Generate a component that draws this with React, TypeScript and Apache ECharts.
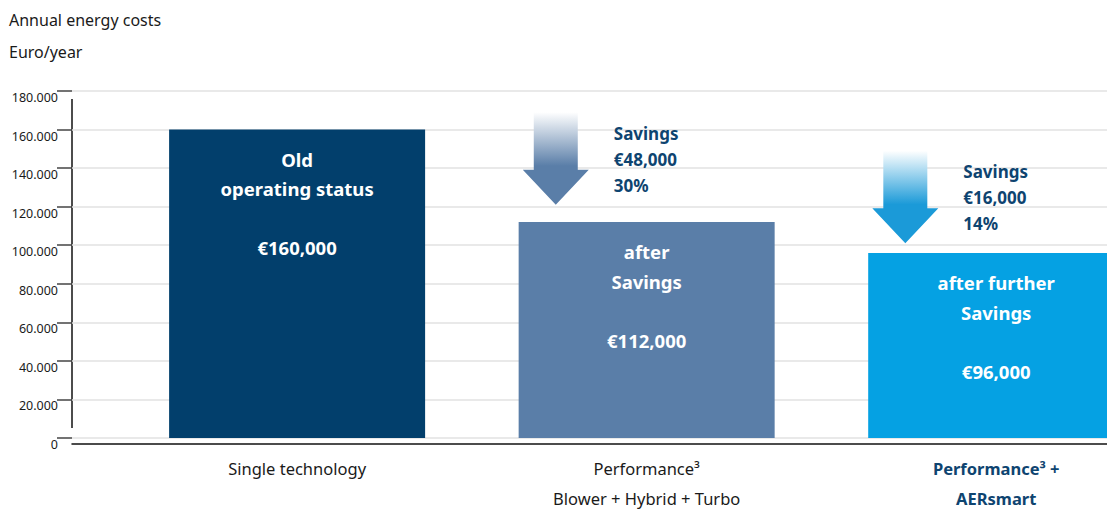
import React, { useEffect, useRef } from "react";
import * as echarts from "echarts";

const titleLines = ["Annual energy costs", "Euro/year"];
const categories = ["Single technology", "Performance³\nBlower + Hybrid + Turbo", "Performance³ +\nAERsmart"];
const positions = [1, 2, 3];
const costs = [160000, 112000, 96000];
const barTitles = ["Old\noperating status", "after\nSavings", "after further\nSavings"];
const barColors = ["#023f6c", "#5a7ea8", "#05a1e3"];
const arrowX = [1.74, 2.74];
const arrowFrom = [169000, 149000];
const arrowTo = [121000, 101000];
const savingsAmount = [48000, 16000];
const savingsPct = [30, 14];
const arrowColors = ["#5a7ea8", "#1b9ad8"];

const FONT = "Noto Sans";

const fmtDot = (v: number) => (v === 0 ? "0" : `${Math.round(v / 1000)}.000`);
const fmtEuro = (v: number) => "€" + v.toLocaleString("en-US");

export default function App() {
  const ref = useRef<HTMLDivElement>(null);
  useEffect(() => {
    if (!ref.current) return;
    const chart = echarts.init(ref.current, undefined, { renderer: "svg" });
    const option: any = {
      animation: false,
      backgroundColor: "#ffffff",
      title: {
        text: titleLines.join("\n"),
        left: 9,
        top: 4,
        padding: 0,
        textStyle: { fontFamily: FONT, fontSize: 16, fontWeight: "normal", lineHeight: 32, color: "#1a1a1a" },
      },
      grid: { left: 72, right: 0, top: 91, bottom: 72 },
      xAxis: {
        type: "value",
        min: 0.356,
        max: 3.317,
        offset: 6,
        splitLine: { show: false },
        axisTick: { show: false },
        axisLine: { show: true, onZero: false, lineStyle: { color: "#111", width: 1.5 } },
        axisLabel: {
          customValues: positions,
          margin: 9,
          formatter: (v: number) => {
            const i = Math.round(v) - 1;
            const t = categories[i] || "";
            const lines = t.split("\n");
            const key = i === 2 ? "b" : "n";
            return lines.map((l) => `{${key}|${l}}`).join("\n");
          },
          rich: {
            n: { fontFamily: FONT, fontSize: 16.5, color: "#1a1a1a", lineHeight: 30.5 },
            b: { fontFamily: FONT, fontSize: 16.5, fontWeight: "bold", color: "#0e4470", lineHeight: 30.5 },
          },
        },
      },
      yAxis: {
        type: "value",
        min: 0,
        max: 180000,
        interval: 20000,
        axisLine: { show: false },
        axisTick: { show: true, length: 15, lineStyle: { color: "#444", width: 1.5 } },
        splitLine: { show: true, lineStyle: { color: "#e2e2e2", width: 1.5 } },
        axisLabel: {
          margin: 14,
          verticalAlign: "top",
          fontFamily: FONT,
          fontSize: 12.5,
          color: "#1a1a1a",
          formatter: (v: number) => fmtDot(v),
        },
      },
      graphic: [
        { type: "line", shape: { x1: 72, y1: 99, x2: 72, y2: 428 }, style: { stroke: "#111", lineWidth: 1.5 } },
      ],
      series: [
        {
          type: "bar",
          barWidth: 256,
          data: costs.map((v, i) => ({
            value: [positions[i], v],
            itemStyle: { color: barColors[i] },
          })),
          label: {
            show: true,
            position: "insideTop",
            distance: 15,
            formatter: (p: any) => {
              const i = p.dataIndex;
              const lines = barTitles[i].split("\n");
              return lines.map((l) => `{t|${l}}`).join("\n") + "\n{t| }\n{t|" + fmtEuro(costs[i]) + "}";
            },
            rich: {
              t: { fontFamily: FONT, fontSize: 18.5, fontWeight: "bold", color: "#ffffff", lineHeight: 29.5, align: "center" },
            },
          },
        },
        {
          type: "custom",
          clip: false,
          z: 5,
          data: arrowX.map((x, i) => [x, arrowFrom[i], arrowTo[i], i]),
          encode: { x: 0, y: [1, 2] },
          renderItem: (params: any, api: any) => {
            const i = api.value(3);
            const top = api.coord([api.value(0), api.value(1)]);
            const tip = api.coord([api.value(0), api.value(2)]);
            const cx = top[0];
            const headH = 35;
            const headStart = tip[1] - headH;
            const sw = 22;
            const hw = 33;
            return {
              type: "group",
              children: [
                {
                  type: "polygon",
                  shape: {
                    points: [
                      [cx - sw, top[1]],
                      [cx + sw, top[1]],
                      [cx + sw, headStart],
                      [cx + hw, headStart],
                      [cx, tip[1]],
                      [cx - hw, headStart],
                      [cx - sw, headStart],
                    ],
                  },
                  style: {
                    fill: new echarts.graphic.LinearGradient(0, 0, 0, 1, [
                      { offset: 0, color: "#ffffff" },
                      { offset: 0.58, color: arrowColors[i] },
                      { offset: 1, color: arrowColors[i] },
                    ]),
                  },
                },
                {
                  type: "text",
                  x: cx + 58,
                  y: top[1] + 8,
                  style: {
                    text: `Savings\n${fmtEuro(savingsAmount[i])}\n${savingsPct[i]}%`,
                    fill: "#0e4470",
                    fontFamily: FONT,
                    fontSize: 17,
                    fontWeight: "bold",
                    lineHeight: 26,
                    align: "left",
                    verticalAlign: "top",
                  },
                },
              ],
            };
          },
        },
      ],
    };
    chart.setOption(option);
    return () => chart.dispose();
  }, []);
  return (
    <div
      ref={ref}
      style={{ position: "absolute", left: 0, top: 0, width: 1107, height: 510 }}
    />
  );
}
